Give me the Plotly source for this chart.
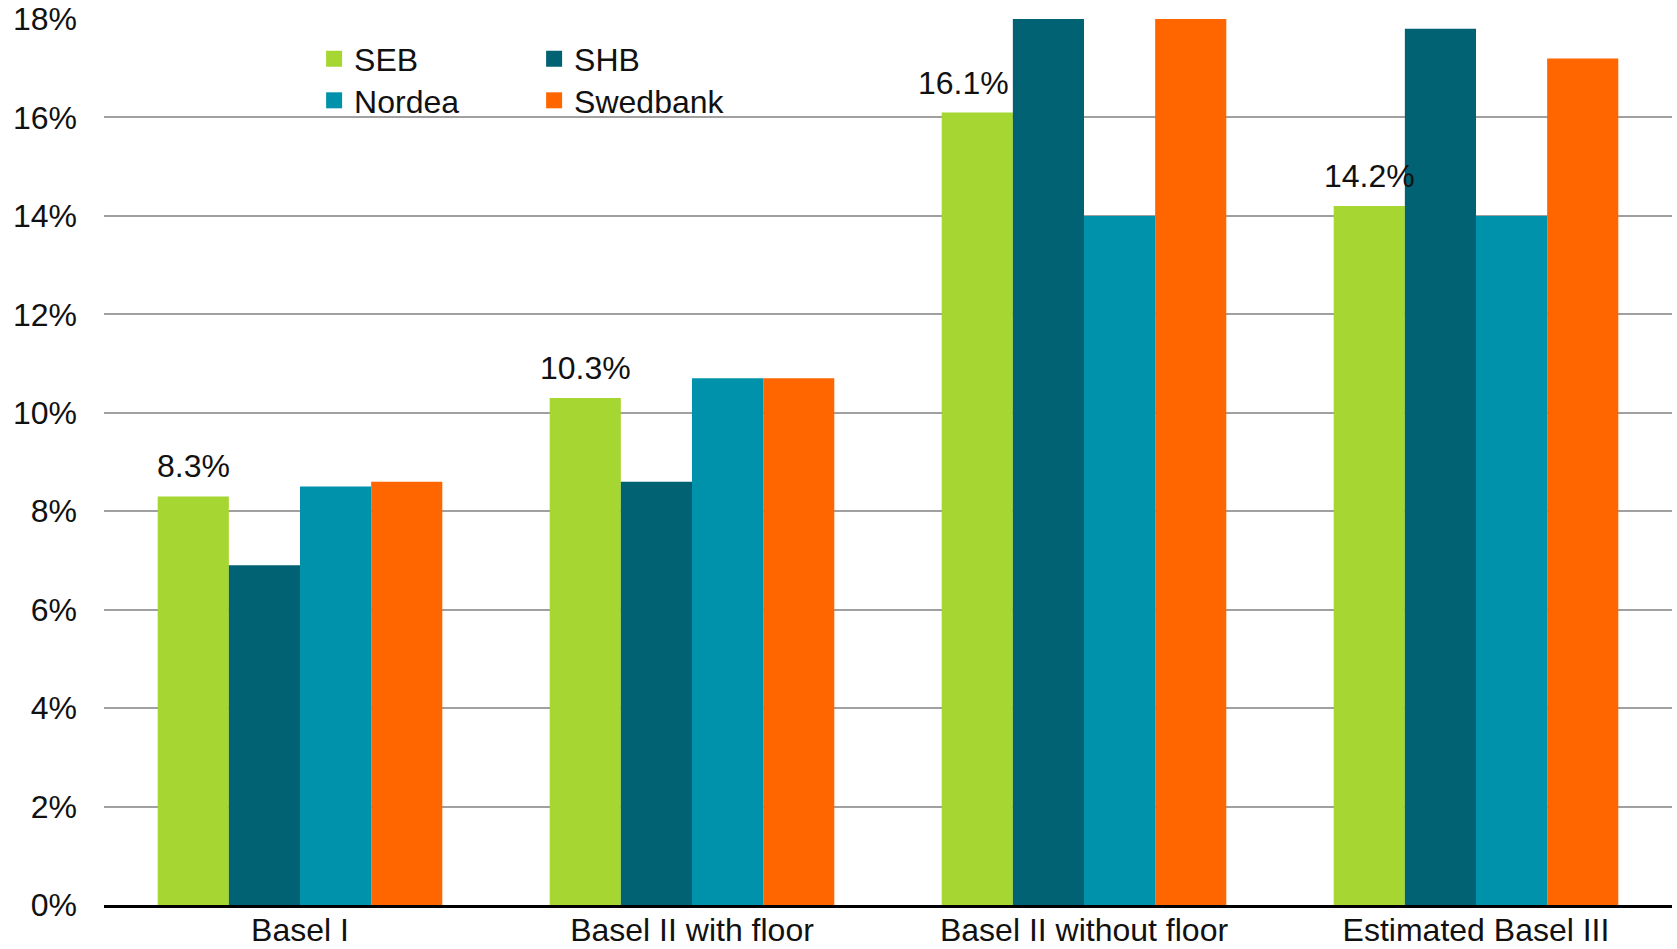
import plotly.graph_objects as go

categories = ["Basel I", "Basel II with floor", "Basel II without floor", "Estimated Basel III"]
seb = [8.3, 10.3, 16.1, 14.2]
shb = [6.9, 8.6, 18.0, 17.8]
nordea = [8.5, 10.7, 14.0, 14.0]
swedbank = [8.6, 10.7, 18.0, 17.2]
seb_labels = ["8.3%", "10.3%", "16.1%", "14.2%"]
y_ticks = [0, 2, 4, 6, 8, 10, 12, 14, 16, 18]
y_tick_text = ["0%", "2%", "4%", "6%", "8%", "10%", "12%", "14%", "16%", "18%"]

colors = {"SEB": "#A6D632", "SHB": "#006272", "Nordea": "#0092AB", "Swedbank": "#FF6600"}
FONT = "Liberation Sans, Arial, sans-serif"
label_xshift = [-107, -107, -121, -107]

fig = go.Figure()
series = [("SEB", seb, "legend"), ("SHB", shb, "legend"), ("Nordea", nordea, "legend2"), ("Swedbank", swedbank, "legend2")]
for name, vals, lg in series:
    fig.add_trace(go.Bar(name=name, x=categories, y=vals, showlegend=False,
                         marker=dict(color=colors[name], line=dict(width=0))))
# legend entries (square markers like the original legend keys)
for name, vals, lg in series:
    fig.add_trace(go.Scatter(name=name, x=[None], y=[None], mode="markers", legend=lg,
                             marker=dict(symbol="square", size=16, color=colors[name])))

for c, v, t, dx in zip(categories, seb, seb_labels, label_xshift):
    fig.add_annotation(x=c, y=v, text=t, showarrow=False, xref="x", yref="y",
                       xshift=dx, yshift=30, yanchor="middle", xanchor="center",
                       font=dict(family=FONT, size=32, color="#111111"))

legend_common = dict(orientation="h", xanchor="left", yanchor="middle",
                     bgcolor="rgba(0,0,0,0)", font=dict(family=FONT, size=32, color="#111111"),
                     entrywidth=175, entrywidthmode="pixels", itemclick=False)

fig.update_layout(
    width=1677, height=949,
    margin=dict(l=104, r=5, t=19, b=44),
    paper_bgcolor="white", plot_bgcolor="white",
    barmode="group", bargap=0.274, bargroupgap=0,
    font=dict(family=FONT, size=32, color="#111111"),
    legend=dict(x=0.134, y=0.955, **legend_common),
    legend2=dict(x=0.134, y=0.908, **legend_common),
    xaxis=dict(showline=True, linecolor="black", linewidth=3, ticks="", showgrid=False,
               tickfont=dict(family=FONT, size=32, color="#111111"), ticklabelstandoff=-5,
               automargin=False),
    yaxis=dict(range=[0, 18], tickvals=y_ticks, ticktext=y_tick_text, showgrid=True,
               gridcolor="#A0A0A0", gridwidth=2, zeroline=False, showline=False, ticks="",
               tickfont=dict(family=FONT, size=32, color="#111111"), ticklabelstandoff=26,
               automargin=False),
)

fig.write_html("out.html")
